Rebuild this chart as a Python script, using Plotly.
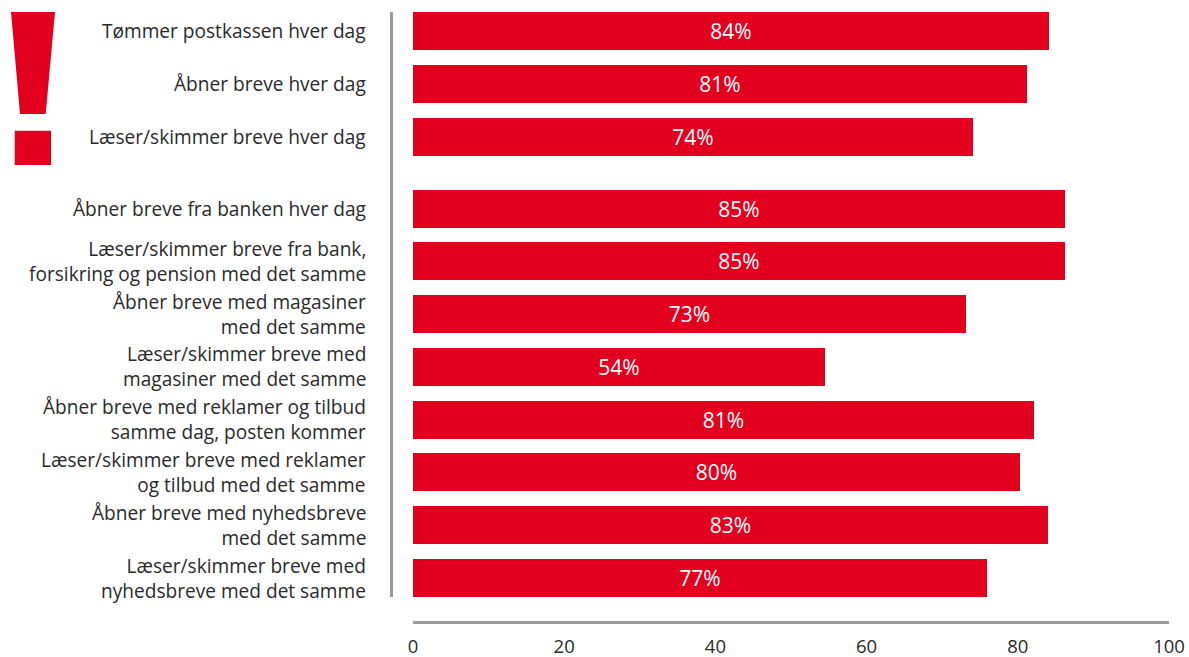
import plotly.graph_objects as go

# ---------------- data ----------------
categories = [
    "Tømmer postkassen hver dag",
    "Åbner breve hver dag",
    "Læser/skimmer breve hver dag",
    "Åbner breve fra banken hver dag",
    "Læser/skimmer breve fra bank,<br>forsikring og pension med det samme",
    "Åbner breve med magasiner<br>med det samme",
    "Læser/skimmer breve med<br>magasiner med det samme",
    "Åbner breve med reklamer og tilbud<br>samme dag, posten kommer",
    "Læser/skimmer breve med reklamer<br>og tilbud med det samme",
    "Åbner breve med nyhedsbreve<br>med det samme",
    "Læser/skimmer breve med<br>nyhedsbreve med det samme",
]
# bar lengths as drawn in the picture
values = [84.1, 81.2, 74.1, 86.2, 86.2, 73.2, 54.5, 82.1, 80.3, 84.0, 75.9]
# printed labels
value_labels = ["84%", "81%", "74%", "85%", "85%", "73%", "54%", "81%", "80%", "83%", "77%"]
group = [0, 0, 0, 1, 1, 1, 1, 1, 1, 1, 1]
x_ticks = [0, 20, 40, 60, 80, 100]

# ---------------- layout constants ----------------
W, H = 1189, 657
ML, MR, MT, MB = 413, 20, 5, 36
PW, PH = W - ML - MR, H - MT - MB
RED = "#E3001F"
GRAY = "#9a9a9a"
TXT = "#2a2a2a"
FONT = "Open Sans"
GAP = 0.364
BAR_W = 0.72

positions = [i + GAP * g for i, g in enumerate(group)]


def px_x(px):
    return (px - ML) / PW


def px_y(py):
    return (H - MB - py) / PH


fig = go.Figure()
fig.add_trace(go.Bar(
    x=values, y=positions, orientation="h", width=BAR_W,
    marker=dict(color=RED, line=dict(width=0)),
    text=value_labels, textposition="inside", insidetextanchor="middle",
    textfont=dict(color="white", size=21, family=FONT),
    hoverinfo="skip", showlegend=False,
))

annotations = [
    dict(text=cat, x=px_x(368), xref="paper", xanchor="right", align="right",
         y=pos, yref="y", yanchor="middle",
         showarrow=False, font=dict(size=19.1, color=TXT, family=FONT))
    for cat, pos in zip(categories, positions)
]

shapes = [
    # vertical separator line
    dict(type="line", xref="paper", yref="y",
         x0=px_x(391.5), x1=px_x(391.5),
         y0=positions[0] - BAR_W / 2, y1=positions[-1] + BAR_W / 2,
         line=dict(color=GRAY, width=3)),
    # exclamation mark body
    dict(type="path", xref="paper", yref="paper",
         path=(f"M {px_x(11)} {px_y(12)} L {px_x(55)} {px_y(12)} "
               f"L {px_x(45.7)} {px_y(114)} L {px_x(20)} {px_y(114)} Z"),
         fillcolor=RED, line=dict(width=0)),
    # exclamation mark dot
    dict(type="rect", xref="paper", yref="paper",
         x0=px_x(14.7), x1=px_x(51), y0=px_y(165), y1=px_y(130.7),
         fillcolor=RED, line=dict(width=0)),
]

fig.update_layout(
    width=W, height=H,
    margin=dict(l=ML, r=MR, t=MT, b=MB, pad=0, autoexpand=False),
    paper_bgcolor="white", plot_bgcolor="white",
    font=dict(family=FONT, color=TXT),
    bargap=0,
    annotations=annotations, shapes=shapes,
    xaxis=dict(range=[0, 100], tickvals=x_ticks, ticks="",
               showgrid=False, zeroline=False, automargin=False,
               showline=True, linecolor=GRAY, linewidth=3,
               tickfont=dict(size=18.5, color=TXT, family=FONT),
               ticklabelstandoff=7, fixedrange=True),
    yaxis=dict(range=[positions[-1] + 0.814, positions[0] - 0.492],
               showticklabels=False, showgrid=False, zeroline=False,
               automargin=False, showline=False, fixedrange=True),
)

fig.write_html(
    "out.html",
    config={"displayModeBar": False},
    post_script="document.body.style.margin='0';",
)
